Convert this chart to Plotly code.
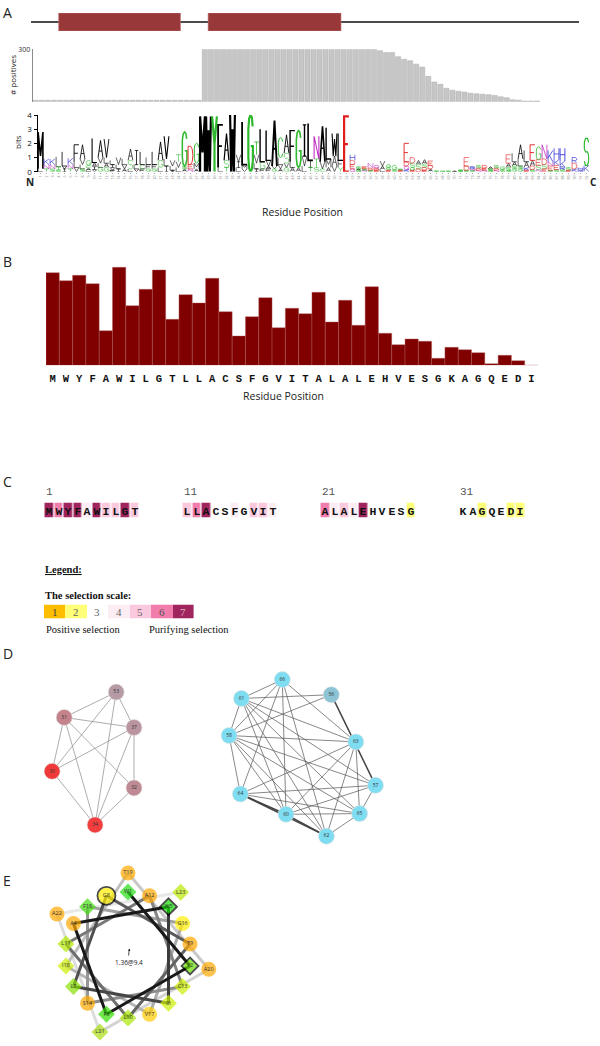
import plotly.graph_objects as go

W, H = 600, 1046
def fx(p): return p / W
def fy(p): return 1 - p / H

SANS = "Open Sans"
MONO = "Liberation Mono"
SERIF = "Liberation Serif"

# ===================== DATA =====================
# Panel A - topology (TM segments on a 100-residue scale)
TOPO_LENGTH = 100
TM_SEGMENTS = [(6, 28), (33, 57)]

# Panel A - number of positives per column
POSITIVES = [
    8, 8, 8, 8, 8, 8, 8, 8, 8, 8, 8, 8, 8, 8,
    8, 8, 8, 8, 8, 8, 8, 8, 8, 8, 8, 8, 8, 8,
    300, 300, 300, 300, 300, 300, 300, 300, 300, 300,
    300, 300, 300, 300, 300, 300, 300, 300, 300, 300,
    300, 300, 300, 300, 300, 300, 300, 300, 300,
    292, 281, 281, 258, 243, 234, 215, 198, 145, 113,
    100, 77, 66, 60, 55, 49, 45, 43, 40, 36,
    28, 23, 11, 9, 4, 4, 4,
]

# Panel A - sequence logo: per column, letters with heights in bits (top -> bottom)
LOGO = [
    "M2.6 L0.2", "K0.4 N0.3 T0.2", "K0.4 N0.3 S0.2", "L0.7 T0.2 S0.15",
    "L1.0 V0.2 I0.2", "K0.45 N0.3 T0.2", "F1.2 L0.4 V0.3", "A1.0 V0.4 L0.3 S0.2",
    "G0.35 C0.2 A0.15 L0.1", "L1.7 A0.3 I0.2 V0.15", "A1.2 V0.4 L0.3 G0.3",
    "V1.3 L0.4 A0.3 G0.3", "L0.3 I0.2 V0.2 F0.1", "V0.5 L0.3 I0.2", "L0.4 V0.3 A0.2",
    "A0.8 S0.6 L0.2", "I1.0 L0.3 V0.2", "L0.9 C0.3 F0.2", "L0.5 F0.3 G0.2",
    "L0.9 F0.3 G0.2", "A1.3 G0.5 L0.3", "V1.6 L0.5 I0.4", "V0.4 L0.3 I0.1",
    "T0.5 V0.4 L0.3", "G2.4 S0.2 A0.2", "D1.3 E0.3 N0.2", "G1.4 M0.4 A0.2",
    # 28 - 64 : core region
    "M3.9", "W3.9", "Y3.9", "F3.0 L0.3", "A1.9 S0.5 T0.3", "W4.0",
    "V0.5 I0.4 L0.3", "L3.0 M0.3 V0.2", "G4.0", "T0.9 V0.6 L0.4 I0.2",
    "L2.3 G0.5 F0.2", "L2.1 V0.4 A0.2 F0.2", "A3.2 V0.2 G0.2",
    "C1.4 L0.5 V0.3 A0.2", "A1.3 S0.7 V0.3 G0.3", "F2.2 L0.4 A0.3", "G2.6 A0.3",
    "I2.2 V0.7 L0.4", "L2.6 I0.5 T0.3", "N1.6 T0.6 S0.3", "A2.5 V0.5 C0.2",
    "L2.2 M0.6 A0.3", "W1.6 A0.7 V0.4", "L1.9 F0.5 Y0.3", "E3.9",
    "H0.4 D0.3 E0.3 Q0.2", "S0.15 A0.1 G0.1", "E0.15 S0.1 N0.1", "N0.35 D0.15 S0.1",
    "Q0.2 D0.15 E0.1", "V0.35 A0.25 L0.15", "G0.2 S0.2 E0.1", "G0.3 S0.15", "S0.1 E0.1",
    "E1.3 D0.3 Q0.25 K0.15", "D0.4 S0.3 G0.2 E0.1", "A0.3 S0.3 D0.2",
    # 65 - 92
    "A0.3 S0.25 D0.2 E0.1", "E0.3 D0.25 A0.2", "S0.06", "G0.05", "S0.05", "A0.05",
    "G0.08 S0.06", "E0.6 D0.3 S0.1", "R0.15 N0.1 S0.1", "S0.2 D0.15 N0.1",
    "D0.2 E0.15 N0.1", "A0.15 S0.1 G0.1", "S0.2 D0.15 N0.1", "G0.2 S0.15",
    "E0.6 A0.3 S0.2 G0.1", "L0.6 A0.3 S0.2 G0.2", "A1.0 L0.5 S0.2 G0.2",
    "L0.8 A0.4 K0.2 E0.1", "E1.1 A0.4 D0.25 S0.15", "G0.9 E0.4 S0.3 N0.15",
    "N1.0 D0.4 S0.3 E0.2", "K0.8 N0.3 E0.3 S0.1", "H0.8 K0.4 E0.3 S0.15",
    "H0.9 K0.4 R0.2 S0.15", "S0.2 E0.1", "R0.4 D0.4 K0.2", "H0.2 K0.1", "S1.9 K0.45",
]

# Panel B - conservation per residue
B_RESIDUES = list("MWYFAWILGTLLACSFGVITALALEHVESGKAGQEDI")
B_SCORES = [92.6, 84.6, 90.0, 81.6, 34.6, 98.0, 59.6, 76.0, 95.3, 46.0,
            70.6, 62.3, 87.0, 53.6, 29.3, 48.6, 67.6, 37.6, 57.0, 51.6,
            73.0, 43.3, 65.0, 40.0, 78.6, 32.0, 20.6, 26.3, 24.0, 7.0,
            18.0, 15.6, 12.6, 1.6, 10.0, 4.6, 0.0]

# Panel C - selection grades
C_SEQUENCE = "MWYFAWILGTLLACSFGVITALALEHVESGKAGQEDI"
C_GRADES = [7, 6, 7, 7, 4, 7, 5, 5, 7, 5,
            5, 6, 7, 3, 3, 4, 3, 5, 5, 4,
            6, 4, 5, 4, 7, 3, 3, 3, 3, 2,
            3, 3, 2, 3, 3, 2, 2]
C_GROUP_STARTS = [1, 11, 21, 31]
SCALE_GRADES = [1, 2, 3, 4, 5, 6, 7]
SCALE_COLORS = ["#FFBD00", "#FFFF78", "#FFFFFF", "#FCEDF4", "#FAC9DE", "#F07DAB", "#A0255F"]
SCALE_TEXT_COLORS = ["#444", "#666", "#666", "#666", "#666", "#555", "#d8b0c4"]

# Panel D - networks (node layout positions)
NODE_IDS = ["53", "31", "37", "30", "32", "34",
            "66", "61", "56", "58", "63", "57", "64", "60", "65", "62"]
NODE_X = [116.2, 64.2, 134.0, 52.1, 134.0, 95.1,
          282.3, 241.5, 331.3, 229.1, 355.8, 375.5, 240.4, 286.0, 359.6, 326.4]
NODE_Y = [692.1, 717.4, 727.5, 771.3, 787.9, 824.9,
          679.6, 698.5, 694.7, 735.5, 741.9, 785.3, 794.0, 814.3, 813.6, 836.2]
NODE_COLORS = ["#B69BA7", "#C4828A", "#BA95A0", "#F03A3A", "#BE8B94", "#F23E3E",
               "#7FDDF2", "#7FDDF2", "#8CC4D6", "#7FDDF2", "#7FDDF2", "#7FDDF2",
               "#7FDDF2", "#7FDDF2", "#7FDDF2", "#7FDDF2"]
EDGES = [("31", "53"), ("53", "37"), ("53", "30"), ("53", "34"), ("31", "37"),
         ("31", "30"), ("31", "34"), ("31", "32"), ("37", "30"), ("37", "34"),
         ("37", "32"), ("30", "34"), ("32", "34"),
         ("61", "66"), ("61", "56"), ("61", "58"), ("61", "63"), ("61", "57"),
         ("61", "65"), ("61", "60"), ("61", "62"),
         ("66", "58"), ("66", "63"), ("66", "60"), ("66", "62"), ("66", "64"),
         ("56", "58"), ("58", "63"), ("58", "57"), ("58", "65"), ("58", "60"),
         ("58", "62"), ("58", "64"), ("63", "64"), ("63", "60"), ("63", "62"),
         ("63", "65"), ("64", "65"), ("64", "57"), ("60", "65"), ("60", "57"),
         ("62", "65"), ("65", "57")]
THICK_EDGES = [("56", "57"), ("64", "60"), ("64", "62"), ("60", "62")]

# Panel E - helical wheel
E_LABELS = ["W1", "Y2", "F3", "A4", "W5", "I6", "L7", "G8", "T9", "L10", "L11", "A12",
            "C13", "S14", "F15", "G16", "V17", "I18", "T19", "A20", "L21", "A22", "L23"]
E_SYMBOLS = ["diamond", "diamond", "diamond", "circle", "diamond", "diamond", "diamond",
             "circle", "circle", "diamond", "diamond", "circle", "diamond", "circle",
             "diamond", "circle", "circle", "diamond", "circle", "circle", "diamond",
             "circle", "diamond"]
E_COLORS = ["#22DD11", "#66DD00", "#33DD00", "#FFA800", "#11DD00", "#CCEE00", "#88E000",
            "#FFEE00", "#FFAA00", "#A8E800", "#B0E800", "#FFA800", "#CCEE00", "#FFAA00",
            "#44DD11", "#FFEE00", "#FFCC00", "#CCEE00", "#FFAA00", "#FFA800", "#AADD11",
            "#FFA800", "#BBE800"]
E_OUTLINED = ["Y2", "W5", "G8"]
E_MOMENT = "1.36@9.4"

# ===================== STYLE =====================
LOGO_COLORS = {}
for a in "AVLIPWFM":
    LOGO_COLORS[a] = "#000000"
for a in "GSTYC":
    LOGO_COLORS[a] = "#2DB82D"
for a in "NQ":
    LOGO_COLORS[a] = "#C030C0"
for a in "KRH":
    LOGO_COLORS[a] = "#2020D0"
for a in "DE":
    LOGO_COLORS[a] = "#E01E1E"

C_ARC = [(0.95, 0.8), (0.78, 0.96), (0.5, 1), (0.22, 0.94), (0.05, 0.75), (0, 0.5),
         (0.05, 0.25), (0.22, 0.06), (0.5, 0), (0.78, 0.04), (0.95, 0.2)]
GLYPHS = {
    'A': [[(0, 0), (0.5, 1), (1, 0)], [(0.2, 0.38), (0.8, 0.38)]],
    'C': [C_ARC],
    'D': [[(0, 0), (0, 1), (0.5, 1), (0.85, 0.85), (1, 0.5), (0.85, 0.15), (0.5, 0), (0, 0)]],
    'E': [[(1, 1), (0, 1), (0, 0), (1, 0)], [(0, 0.5), (0.8, 0.5)]],
    'F': [[(1, 1), (0, 1), (0, 0)], [(0, 0.5), (0.8, 0.5)]],
    'G': [C_ARC[:-1] + [(1, 0.2), (1, 0.45), (0.55, 0.45)]],
    'H': [[(0, 0), (0, 1)], [(1, 0), (1, 1)], [(0, 0.5), (1, 0.5)]],
    'I': [[(0.5, 0), (0.5, 1)], [(0.15, 1), (0.85, 1)], [(0.15, 0), (0.85, 0)]],
    'K': [[(0, 0), (0, 1)], [(1, 1), (0, 0.35)], [(0.3, 0.55), (1, 0)]],
    'L': [[(0, 1), (0, 0), (1, 0)]],
    'M': [[(0, 0), (0, 1), (0.5, 0.35), (1, 1), (1, 0)]],
    'N': [[(0, 0), (0, 1), (1, 0), (1, 1)]],
    'P': [[(0, 0), (0, 1), (0.7, 1), (0.95, 0.88), (1, 0.72), (0.95, 0.57), (0.7, 0.45), (0, 0.45)]],
    'Q': [[(0.5, 0), (0.15, 0.1), (0, 0.5), (0.15, 0.9), (0.5, 1), (0.85, 0.9), (1, 0.5),
           (0.85, 0.1), (0.5, 0)], [(0.6, 0.25), (1, 0)]],
    'R': [[(0, 0), (0, 1), (0.7, 1), (0.95, 0.88), (1, 0.72), (0.95, 0.57), (0.7, 0.45), (0, 0.45)],
          [(0.45, 0.45), (1, 0)]],
    'S': [[(0.95, 0.85), (0.7, 1), (0.3, 1), (0.05, 0.85), (0.05, 0.62), (0.3, 0.5), (0.7, 0.5),
           (0.95, 0.38), (0.95, 0.15), (0.7, 0), (0.3, 0), (0.05, 0.15)]],
    'T': [[(0, 1), (1, 1)], [(0.5, 1), (0.5, 0)]],
    'V': [[(0, 1), (0.5, 0), (1, 1)]],
    'W': [[(0, 1), (0.22, 0), (0.5, 0.75), (0.78, 0), (1, 1)]],
    'Y': [[(0, 1), (0.5, 0.5), (1, 1)], [(0.5, 0.5), (0.5, 0)]],
}

fig = go.Figure()

# ---------- Panel A: topology ----------
fig.add_trace(go.Scatter(x=[1, TOPO_LENGTH], y=[0, 0], mode="lines",
                         line=dict(color="#111", width=1.6), xaxis="x7", yaxis="y7",
                         hoverinfo="skip"))
shapes = []
for s, e in TM_SEGMENTS:
    shapes.append(dict(type="rect", xref="x7", yref="y7", x0=s, x1=e, y0=-1, y1=1,
                       fillcolor="#993838", line=dict(color="#c07070", width=0.6)))

# ---------- Panel A: positives ----------
fig.add_trace(go.Bar(x=list(range(1, len(POSITIVES) + 1)), y=POSITIVES, width=0.84,
                     marker=dict(color="#c6c6c6", line=dict(color="#adadad", width=0.5)),
                     xaxis="x2", yaxis="y2", hoverinfo="skip"))

# ---------- Panel A: logo ----------
groups = {}
for k, col in enumerate(LOGO, start=1):
    items = [(t[0], float(t[1:])) for t in col.split()]
    y0 = 0.0
    for letter, h in reversed(items):
        lw = round(min(2.2, max(0.6, 0.3 + 0.5 * h)), 1)
        key = (LOGO_COLORS[letter], lw)
        xs, ys = groups.setdefault(key, ([], []))
        for stroke in GLYPHS[letter]:
            for (u, v) in stroke:
                xs.append(k - 0.4 + 0.8 * u)
                ys.append(y0 + h * v)
            xs.append(None)
            ys.append(None)
        y0 += h
for (color, lw), (xs, ys) in groups.items():
    fig.add_trace(go.Scatter(x=xs, y=ys, mode="lines", line=dict(color=color, width=lw),
                             xaxis="x3", yaxis="y3", hoverinfo="skip", cliponaxis=False))

# ---------- Panel B ----------
bx = list(range(1, len(B_RESIDUES) + 1))
fig.add_trace(go.Bar(x=bx, y=B_SCORES, width=1.0,
                     marker=dict(color="#800000", line=dict(color="#b06060", width=0.4)),
                     xaxis="x4", yaxis="y4", hoverinfo="skip"))
fig.add_trace(go.Scatter(x=bx, y=[-2.2] * len(bx), mode="text", text=B_RESIDUES,
                         textfont=dict(family=SANS, size=6, color="#c4c4c4"),
                         xaxis="x4", yaxis="y4", hoverinfo="skip", cliponaxis=False))

# ---------- Panel C ----------
CS = []
for i, c in enumerate(SCALE_COLORS):
    CS.append([i / 7, c])
    CS.append([(i + 1) / 7, c])
GROUP_STEP = 14.53
for g, start in enumerate(C_GROUP_STARTS):
    idx = list(range(start - 1, min(start + 9, len(C_SEQUENCE))))
    xs = [GROUP_STEP * g + (i - (start - 1)) for i in idx]
    fig.add_trace(go.Heatmap(x=xs, y=[0], z=[[C_GRADES[i] for i in idx]],
                             text=[[C_SEQUENCE[i] for i in idx]], texttemplate="%{text}",
                             textfont=dict(family=MONO, size=11.5, color="#111", weight="bold"),
                             colorscale=CS, zmin=0.5, zmax=7.5, showscale=False, xgap=1.3,
                             xaxis="x5", yaxis="y5", hoverinfo="skip"))
fig.add_trace(go.Heatmap(x=SCALE_GRADES, y=[0], z=[SCALE_GRADES],
                         colorscale=CS, zmin=0.5, zmax=7.5, showscale=False,
                         xaxis="x6", yaxis="y6", hoverinfo="skip"))

# ---------- Panel D ----------
pos = {n: (x, y) for n, x, y in zip(NODE_IDS, NODE_X, NODE_Y)}
left_ids = set(NODE_IDS[:6])
for edges, width, col_l, col_r in [(EDGES, 0.7, "#8a8a8a", "#555555"),
                                   (THICK_EDGES, 1.5, "#555555", "#444444")]:
    for side in (0, 1):
        ex, ey = [], []
        for a, b in edges:
            if (a in left_ids) != (side == 0):
                continue
            ex += [pos[a][0], pos[b][0], None]
            ey += [pos[a][1], pos[b][1], None]
        if ex:
            fig.add_trace(go.Scatter(x=ex, y=ey, mode="lines",
                                     line=dict(color=col_l if side == 0 else col_r, width=width),
                                     xaxis="x", yaxis="y", hoverinfo="skip"))
fig.add_trace(go.Scatter(x=NODE_X, y=NODE_Y, mode="markers+text", text=NODE_IDS,
                         textposition="middle center",
                         textfont=dict(family=SANS, size=5, color="#333"),
                         marker=dict(size=16, color=NODE_COLORS, line=dict(width=0.6, color="#e0e0e0")),
                         xaxis="x", yaxis="y", hoverinfo="skip"))

# ---------- Panel E: helical wheel ----------
nres = len(E_LABELS)
theta = [(100 * i) % 360 for i in range(nres)]
radius = [63 if i < 18 else 82 for i in range(nres)]
for i in reversed(range(nres - 1)):
    g = int(20 + (232 - 20) * i / (nres - 2))
    if i < 4:
        g = 25
    colr = "rgb(%d,%d,%d)" % (g, g, g)
    fig.add_trace(go.Scatterpolar(r=[radius[i], radius[i + 1]], theta=[theta[i], theta[i + 1]],
                                  mode="lines", line=dict(color=colr, width=3.0),
                                  hoverinfo="skip", subplot="polar"))
sizes = [18 if l == "G8" else (13 if s == "diamond" else 15) for l, s in zip(E_LABELS, E_SYMBOLS)]
lwidths = [1.8 if l in E_OUTLINED else 0 for l in E_LABELS]
fig.add_trace(go.Scatterpolar(r=radius, theta=theta, mode="markers+text", text=E_LABELS,
                              textposition="middle center",
                              textfont=dict(family=SANS, size=5.5, color="#333"),
                              marker=dict(symbol=E_SYMBOLS, size=sizes, color=E_COLORS,
                                          line=dict(color="#000", width=lwidths)),
                              hoverinfo="skip", subplot="polar", cliponaxis=False))

# ---------- Annotations ----------
ann = []
def text(x, y, s, size=10, family=SANS, color="#222", xanchor="center", angle=0, **kw):
    d = dict(x=x, y=y, xref=kw.pop("xref", "x"), yref=kw.pop("yref", "y"), text=s,
             showarrow=False, xanchor=xanchor, yanchor="middle", textangle=angle,
             font=dict(family=family, size=size, color=color))
    d.update(kw)
    ann.append(d)

for lab, yy in [("A", 12), ("B", 261), ("C", 481), ("D", 653), ("E", 880)]:
    text(1, yy, lab, size=14, xanchor="left")
text(12, 75, "# positives", size=8, angle=-90)
text(17, 142, "bits", size=8, angle=-90)
text(30, 182, "<b>N</b>", size=10)
text(593, 182, "<b>C</b>", size=10)
text(302, 212, "Residue Position", size=10.5)
text(283, 396, "Residue Position", size=10.5)
for g, start in enumerate(C_GROUP_STARTS):
    text(GROUP_STEP * g - 0.55, 492, str(start), size=11, family=MONO, color="#555",
         xanchor="left", xref="x5")
for v, c in zip(SCALE_GRADES, SCALE_TEXT_COLORS):
    text(v, 611.5, str(v), size=11, family=SERIF, color=c, xref="x6")
text(43, 569, "<b><u>Legend:</u></b>", size=10.5, family=SERIF, xanchor="left", color="#111")
text(43, 595, "<b>The selection scale:</b>", size=10.5, family=SERIF, xanchor="left", color="#111")
text(44, 629, "Positive selection", size=10.5, family=SERIF, xanchor="left", color="#111")
text(147, 629, "Purifying selection", size=10.5, family=SERIF, xanchor="left", color="#111")
text(128.5, 962, E_MOMENT, size=6.5)
ann.append(dict(x=129.4, y=948.5, ax=128.4, ay=957, xref="x", yref="y", axref="x", ayref="y",
                text="", showarrow=True, arrowhead=2, arrowsize=0.6, arrowwidth=0.8,
                arrowcolor="#222"))

noax = dict(visible=False, showgrid=False, zeroline=False, automargin=False)
fig.update_layout(
    width=W, height=H, autosize=False,
    margin=dict(l=0, r=0, t=0, b=0, pad=0, autoexpand=False),
    paper_bgcolor="white", plot_bgcolor="rgba(0,0,0,0)", showlegend=False,
    xaxis=dict(domain=[0, 1], range=[0, W], **noax),
    yaxis=dict(domain=[0, 1], range=[H, 0], **noax),
    xaxis2=dict(domain=[fx(32.7), fx(540)], range=[0.5, len(POSITIVES) + 0.5], anchor="y2", **noax),
    yaxis2=dict(domain=[fy(101.7), fy(49.3)], range=[0, 300], anchor="x2", showline=True,
                linecolor="#8c8c8c", linewidth=1.2, ticks="inside", ticklen=3, tickcolor="#8c8c8c",
                tickvals=[300], ticktext=["300"], tickfont=dict(family=SANS, size=7, color="#333"),
                showgrid=False, zeroline=False, automargin=False),
    xaxis3=dict(domain=[fx(37.5), fx(589.5)], range=[0.5, len(LOGO) + 0.5], anchor="y3",
                showline=False, showgrid=False, zeroline=False, automargin=False,
                tickvals=list(range(1, len(LOGO) + 1)),
                ticktext=[str(i) for i in range(1, len(LOGO) + 1)], tickangle=-90,
                tickfont=dict(family=SANS, size=3.5, color="#777"), ticks="outside",
                ticklen=1.5, tickcolor="#aaa"),
    yaxis3=dict(domain=[fy(171.7), fy(115)], range=[0, 4], anchor="x3", showline=True,
                linecolor="#000", linewidth=1, ticks="outside", ticklen=3, tickcolor="#000",
                tickvals=[0, 1, 2, 3, 4], tickfont=dict(family=SANS, size=8, color="#111"),
                showgrid=False, zeroline=False, automargin=False),
    xaxis4=dict(domain=[fx(46), fx(538)], range=[0.5, len(B_RESIDUES) + 0.5], anchor="y4",
                showline=False, showgrid=False, zeroline=False, ticks="", automargin=False,
                tickvals=bx, ticktext=B_RESIDUES, ticklabelstandoff=5,
                tickfont=dict(family=MONO, size=10.5, color="#111", weight="bold")),
    yaxis4=dict(domain=[fy(365.3), fy(265.3)], range=[0, 100], anchor="x4", **noax),
    xaxis5=dict(domain=[0, 1], range=[-49.25 / 9.5, (W - 49.25) / 9.5], anchor="y5", **noax),
    yaxis5=dict(domain=[fy(517.5), fy(502.5)], range=[-0.5, 0.5], anchor="x5", **noax),
    xaxis6=dict(domain=[fx(44), fx(193.6)], range=[0.5, 7.5], anchor="y6", **noax),
    yaxis6=dict(domain=[fy(618.5), fy(604.5)], range=[-0.5, 0.5], anchor="x6", **noax),
    xaxis7=dict(domain=[fx(31), fx(579)], range=[1, TOPO_LENGTH], anchor="y7", **noax),
    yaxis7=dict(domain=[fy(31), fy(13)], range=[-1, 1], anchor="x7", **noax),
    polar=dict(domain=dict(x=[fx(38), fx(218)], y=[fy(1045), fy(865)]),
               bgcolor="rgba(0,0,0,0)",
               radialaxis=dict(visible=False, range=[0, 90]),
               angularaxis=dict(visible=False, rotation=90, direction="clockwise")),
    shapes=shapes, annotations=ann,
)

fig.write_html("out.html", config={"displayModeBar": False},
               post_script="document.body.style.margin='0';document.body.style.padding='0';")
